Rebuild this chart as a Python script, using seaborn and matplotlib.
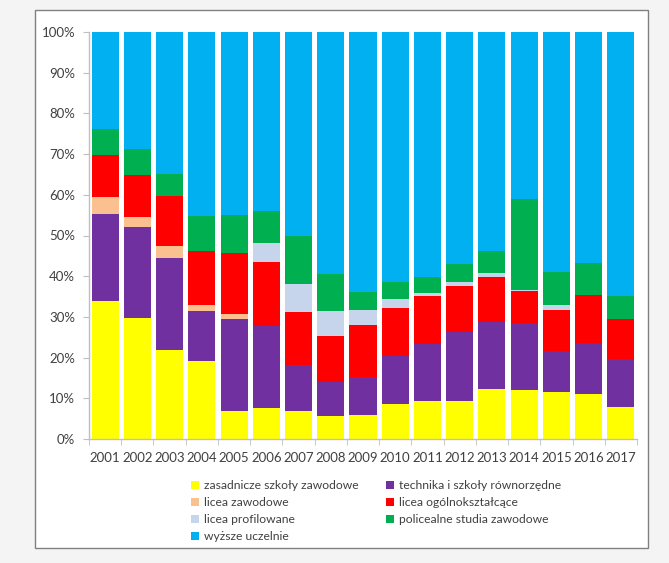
import matplotlib
matplotlib.use("Agg")
import matplotlib.pyplot as plt
import matplotlib.patches as mpatches
import numpy as np
import pandas as pd
import seaborn as sns

years = ["2001", "2002", "2003", "2004", "2005", "2006", "2007", "2008", "2009",
         "2010", "2011", "2012", "2013", "2014", "2015", "2016", "2017"]

zasadnicze = [33.9, 29.8, 21.9, 19.2, 6.8, 7.7, 6.8, 5.6, 6.0, 8.7, 9.3, 9.4, 12.3, 12.1, 11.5, 11.0, 7.8]
technika = [21.4, 22.2, 22.6, 12.2, 22.6, 20.1, 11.3, 8.5, 9.2, 11.6, 14.1, 16.8, 16.5, 16.3, 10.0, 12.6, 11.9]
licea_zaw = [4.1, 2.6, 2.9, 1.5, 1.3, 0, 0, 0, 0, 0, 0, 0, 0, 0, 0, 0, 0]
licea_ogol = [10.3, 10.2, 12.4, 13.4, 15.0, 15.6, 13.1, 11.1, 12.8, 11.9, 11.7, 11.3, 11.0, 7.9, 10.3, 11.9, 9.8]
licea_prof = [0, 0, 0, 0, 0, 4.8, 7.0, 6.2, 3.6, 2.1, 0.8, 1.0, 0.9, 0.4, 1.1, 0, 0]
policealne = [6.5, 6.5, 5.4, 8.5, 9.4, 7.8, 11.8, 9.2, 4.5, 4.3, 3.9, 4.6, 5.4, 22.2, 8.1, 7.8, 5.6]
wyzsze = [23.8, 28.7, 34.8, 45.2, 44.9, 44.0, 50.0, 59.4, 63.9, 61.4, 60.2, 56.9, 53.9, 41.1, 59.0, 56.7, 64.9]

series_names = ["zasadnicze szkoły zawodowe", "technika i szkoły równorzędne",
                "licea zawodowe", "licea ogólnokształcące", "licea profilowane",
                "policealne studia zawodowe", "wyższe uczelnie"]
series_vals = [zasadnicze, technika, licea_zaw, licea_ogol, licea_prof, policealne, wyzsze]
colors = ["#FFFF00", "#7030A0", "#FAC090", "#FF0000", "#C6D5EC", "#00B050", "#00B0F0"]

# normalise to 100%
arr = np.array(series_vals, dtype=float)
arr = arr / arr.sum(axis=0) * 100.0
cum = np.cumsum(arr, axis=0) / 100.0

W, H = 669, 563
fig = plt.figure(figsize=(W / 100, H / 100), dpi=100)
fig.patch.set_facecolor("#F4F4F4")
frame = mpatches.Rectangle((35 / W, 1 - 548 / H), (648 - 35) / W, (548 - 10) / H,
                           transform=fig.transFigure, facecolor="white",
                           edgecolor="#808080", linewidth=1.0, zorder=-5)
fig.patches.append(frame)

ax = fig.add_axes([89 / W, 1 - 439 / H, (637 - 89) / W, (439 - 32) / H])
ax.set_facecolor("white")
ax.set_zorder(1)

for i in range(len(series_names) - 1, -1, -1):
    df = pd.DataFrame({"rok": years, "val": cum[i]})
    sns.barplot(data=df, x="rok", y="val", order=years, color=colors[i],
                width=0.84, saturation=1, ax=ax, errorbar=None, zorder=2)

ax.set_xlim(-0.5, len(years) - 0.5)
ax.set_ylim(0, 1)
ax.set_yticks(np.arange(0, 1.01, 0.1))
ax.set_yticklabels([f"{int(round(v * 100))}%" for v in np.arange(0, 1.01, 0.1)])
ax.set_xlabel("")
ax.set_ylabel("")

for s in ["top", "right"]:
    ax.spines[s].set_visible(False)
for s in ["left", "bottom"]:
    ax.spines[s].set_color("#BFBFBF")
    ax.spines[s].set_linewidth(1.0)
    ax.spines[s].set_zorder(5)

ax.tick_params(axis="y", length=4, color="#BFBFBF", labelsize=9.5, labelcolor="#404040", pad=6)
ax.tick_params(axis="x", length=0, labelsize=9.5, labelcolor="#404040", pad=9)
ax.set_xticks(np.arange(-0.5, len(years), 1.0), minor=True)
ax.tick_params(axis="x", which="minor", length=4, color="#BFBFBF")
for lab in ax.get_xticklabels() + ax.get_yticklabels():
    lab.set_fontfamily("Lato")

handles = [mpatches.Patch(facecolor=c, edgecolor="none") for c in colors]
order = [0, 2, 4, 6, 1, 3, 5]
leg = fig.legend([handles[k] for k in order], [series_names[k] for k in order],
                 ncol=2, loc="upper left", bbox_to_anchor=(191 / W, 1 - 480 / H),
                 frameon=False, handlelength=0.7, handleheight=0.7,
                 handletextpad=0.4, columnspacing=2.2, labelspacing=0.5,
                 borderaxespad=0, borderpad=0,
                 prop={"family": "Lato", "size": 8.7})
for t in leg.get_texts():
    t.set_color("#404040")

fig.savefig("out.png", dpi=100, facecolor=fig.get_facecolor())
